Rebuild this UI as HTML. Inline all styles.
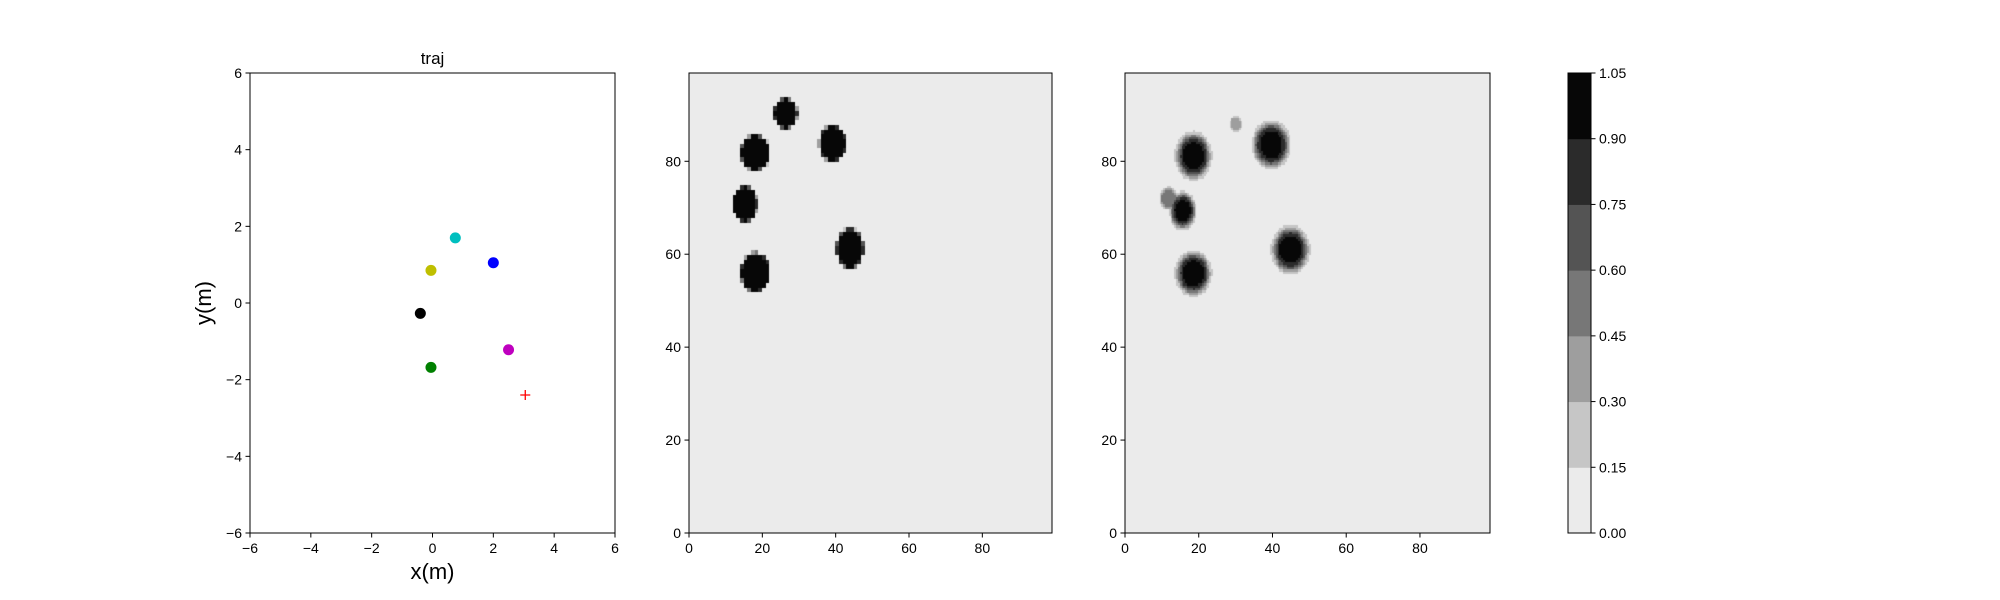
<!DOCTYPE html>
<html><head><meta charset="utf-8"><style>
html,body{margin:0;padding:0;background:#fff;width:2000px;height:600px;overflow:hidden}
svg text{font-family:"Liberation Sans","DejaVu Sans",sans-serif;fill:#000}
</style></head><body>
<svg id="fig" width="2000" height="600" xmlns="http://www.w3.org/2000/svg">
<foreignObject x="689" y="73" width="363" height="460"><canvas id="c2" width="363" height="460" xmlns="http://www.w3.org/1999/xhtml"></canvas></foreignObject>
<foreignObject x="1125" y="73" width="365" height="460"><canvas id="c3" width="365" height="460" xmlns="http://www.w3.org/1999/xhtml"></canvas></foreignObject>
<g id="layer"></g>
</svg>
<script>
// trajectory points
const trajX = [0.75, -0.05, 2.0, -0.4, 2.5, -0.05];
const trajY = [1.7, 0.85, 1.05, -0.27, -1.22, -1.68];
const trajColors = ['#00bfbf','#bfbf00','#0000ff','#000000','#bf00bf','#008000'];
const goalX = [3.05];
const goalY = [-2.4];
const trajTicks = [-6,-4,-2,0,2,4,6];
// heatmap blobs panel 2
const b2X = [26.4, 18.2, 39.2, 15.3, 44.0, 18.2];
const b2Y = [90.5, 82.0, 84.0, 71.0, 61.4, 56.3];
const b2RX = [3.2, 4.1, 3.7, 3.4, 3.7, 4.1];
const b2RY = [3.2, 3.8, 3.9, 3.8, 4.3, 4.2];
const b2A = [1, 1, 1, 1, 1, 1];
// heatmap blobs panel 3
const b3X = [30.2, 18.7, 39.8, 12.0, 15.8, 45.0, 18.7];
const b3Y = [88.3, 81.4, 83.8, 72.3, 69.6, 61.2, 56.1];
const b3RX = [1.6, 4.1, 4.3, 2.2, 3.0, 4.3, 4.1];
const b3RY = [1.6, 4.3, 4.3, 2.2, 3.4, 4.3, 4.0];
const b3A = [0.4, 1, 1, 0.6, 1, 1, 1];
const heatTicks = [0,20,40,60,80];
const levels = [0,0.15,0.30,0.45,0.60,0.75,0.90,1.05];
const levelLabels = ['0.00','0.15','0.30','0.45','0.60','0.75','0.90','1.05'];
const levelColors = ['#ebebeb','#c6c6c6','#9e9e9e','#777777','#545454','#2b2b2b','#070707'];

const NS='http://www.w3.org/2000/svg';
const layer=document.getElementById('layer');
function mk(tag,attrs,parent){const e=document.createElementNS(NS,tag);for(const k in attrs)e.setAttribute(k,attrs[k]);(parent||layer).appendChild(e);return e;}
function txt(s,x,y,size,anchor,parent){const t=mk('text',{x:x,y:y,'font-size':size,'text-anchor':anchor||'middle'},parent);t.textContent=s;return t;}
function lab(v){return v<0?'\u2212'+Math.abs(v):String(v);}

// Panel 1
const P1={l:250,r:615,t:73,b:533};
const sx1=v=>P1.l+(v+6)/12*(P1.r-P1.l);
const sy1=v=>P1.b-(v+6)/12*(P1.b-P1.t);
const g1=mk('g',{});


for(let i=0;i<trajX.length;i++){
  const c=mk('circle',{cx:sx1(trajX[i]),cy:sy1(trajY[i]),r:5.5,fill:trajColors[i]},g1);
  
  
}
for(let i=0;i<goalX.length;i++){
  const p=mk('path',{d:`M${sx1(goalX[i])-5},${sy1(goalY[i])}h10M${sx1(goalX[i])},${sy1(goalY[i])-5}v10`,stroke:'#ff0000','stroke-width':1.3},g1);
  
  
}
trajTicks.forEach(v=>{
  mk('line',{x1:sx1(v),x2:sx1(v),y1:P1.b,y2:P1.b+4.5,stroke:'#000'},g1);
  const tx=txt(lab(v),sx1(v),P1.b+20,14,'middle',g1);
  
  
  mk('line',{x1:P1.l-4.5,x2:P1.l,y1:sy1(v),y2:sy1(v),stroke:'#000'},g1);
  const ty=txt(lab(v),P1.l-8,sy1(v)+5,14,'end',g1);
  
  
});
const f1=mk('rect',{x:P1.l,y:P1.t,width:P1.r-P1.l,height:P1.b-P1.t,fill:'none',stroke:'#000','stroke-width':1},g1);


const tt=txt('traj',(P1.l+P1.r)/2,64,17,'middle',g1);


const xl=txt('x(m)',(P1.l+P1.r)/2,579,22,'middle',g1);


const yl=txt('y(m)',0,0,22,'middle',g1);
yl.setAttribute('transform',`translate(211,${(P1.t+P1.b)/2}) rotate(-90)`);



// Heatmaps
function colorFor(v){for(let i=levelColors.length-1;i>=0;i--){if(v>=levels[i])return levelColors[i];}return levelColors[0];}
function field(x,y,X,Y,RX,RY,A,k){
  let m=0;
  for(let i=0;i<X.length;i++){
    const d=Math.sqrt(((x-X[i])/RX[i])**2+((y-Y[i])/RY[i])**2);
    const v=A[i]/(1+Math.exp((d-1)*k));
    if(v>m)m=v;
  }
  return m;
}
function drawHeat(id,P,X,Y,RX,RY,A,k,sub,name){
  const cv=document.getElementById(id);
  
  
  const ctx=cv.getContext('2d');
  const W=P.r-P.l,H=P.b-P.t;
  const n=99*sub;
  const cw=W/n,ch=H/n;
  for(let i=0;i<n;i++)for(let j=0;j<n;j++){
    const x=(i+0.5)/sub,y=(j+0.5)/sub;
    ctx.fillStyle=colorFor(field(x,y,X,Y,RX,RY,A,k));
    ctx.fillRect(Math.floor(i*cw),Math.floor(H-(j+1)*ch),Math.ceil(cw)+1,Math.ceil(ch)+1);
  }
  const g=mk('g',{});
  
  
  const sx=v=>P.l+v/99*W, sy=v=>P.b-v/99*H;
  heatTicks.forEach(v=>{
    mk('line',{x1:sx(v),x2:sx(v),y1:P.b,y2:P.b+4.5,stroke:'#000'},g);
    const a=txt(String(v),sx(v),P.b+20,14,'middle',g);
    
    
    mk('line',{x1:P.l-4.5,x2:P.l,y1:sy(v),y2:sy(v),stroke:'#000'},g);
    const b=txt(String(v),P.l-8,sy(v)+5,14,'end',g);
    
    
  });
  const fr=mk('rect',{x:P.l,y:P.t,width:W,height:H,fill:'none',stroke:'#000'},g);
  
  
}
drawHeat('c2',{l:689,r:1052,t:73,b:533},b2X,b2Y,b2RX,b2RY,b2A,40,1,'heatmap-ground-truth');
drawHeat('c3',{l:1125,r:1490,t:73,b:533},b3X,b3Y,b3RX,b3RY,b3A,7,2,'heatmap-predicted');

// Colorbar
const CB={l:1568,r:1591,t:73,b:533};
const gc=mk('g',{});


const cy=v=>CB.b-(v-levels[0])/(levels[levels.length-1]-levels[0])*(CB.b-CB.t);
for(let i=0;i<levelColors.length;i++){
  const r=mk('rect',{x:CB.l,y:cy(levels[i+1]),width:CB.r-CB.l,height:cy(levels[i])-cy(levels[i+1])+0.5,fill:levelColors[i]},gc);
  
  
}
levels.forEach((v,i)=>{
  mk('line',{x1:CB.r,x2:CB.r+4.5,y1:cy(v),y2:cy(v),stroke:'#000'},gc);
  const t=txt(levelLabels[i],CB.r+8,cy(v)+5,14,'start',gc);
  
  
});
const cf=mk('rect',{x:CB.l,y:CB.t,width:CB.r-CB.l,height:CB.b-CB.t,fill:'none',stroke:'#000'},gc);


</script>
</body></html>
